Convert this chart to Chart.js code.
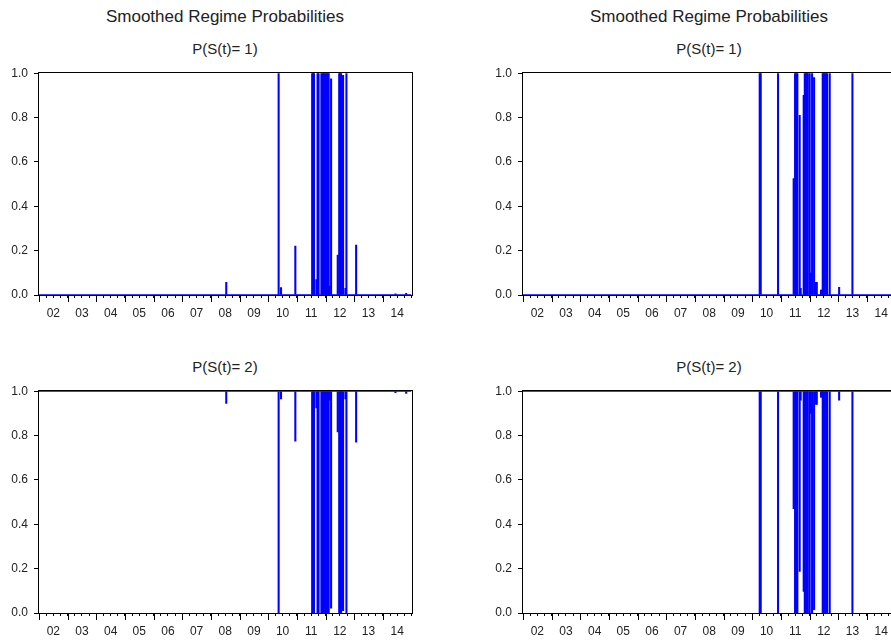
<!DOCTYPE html>
<html>
<head>
<meta charset="utf-8">
<script src="https://cdn.jsdelivr.net/npm/chart.js@4.4.1/dist/chart.umd.min.js"></script>
<style>
html,body{margin:0;padding:0;background:#fff;overflow:hidden;width:891px;height:641px;position:relative;}
.t{position:absolute;font-family:"Liberation Sans",Arial,Helvetica,sans-serif;color:#222;white-space:nowrap;transform:translate(-50%,-50%);line-height:1;}
.title{font-size:17px;}
.sub{font-size:15px;}
canvas{position:absolute;}
</style>
</head>
<body>
<div class="t title" style="left:225px;top:16px">Smoothed Regime Probabilities</div>
<div class="t sub" style="left:225px;top:48px">P(S(t)= 1)</div>
<div class="t sub" style="left:225px;top:366px">P(S(t)= 2)</div>
<div class="t title" style="left:709px;top:16px">Smoothed Regime Probabilities</div>
<div class="t sub" style="left:709px;top:48px">P(S(t)= 1)</div>
<div class="t sub" style="left:709px;top:366px">P(S(t)= 2)</div>

<canvas id="c1" width="430" height="265" style="left:0px;top:60px"></canvas>
<canvas id="c2" width="430" height="265" style="left:484px;top:60px"></canvas>
<canvas id="c3" width="430" height="265" style="left:0px;top:378px"></canvas>
<canvas id="c4" width="430" height="265" style="left:484px;top:378px"></canvas>

<script>
// ---------- axis data ----------
const tickYears  = [2002,2003,2004,2005,2006,2007,2008,2009,2010,2011,2012,2013,2014];
const tickLabels = ['02','03','04','05','06','07','08','09','10','11','12','13','14'];
const xRange = [2002.0, 2015.0];
const baselineSpan = [2002.0, 2015.0];
const yTickValues = [0, 0.2, 0.4, 0.6, 0.8, 1.0];
const yTickLabels = ['0.0','0.2','0.4','0.6','0.8','1.0'];

// ---------- left model ----------
const leftDates = [2008.535, 2010.363, 2010.447, 2010.946,
  2011.533, 2011.568, 2011.597, 2011.680, 2011.722, 2011.757,
  2011.855, 2011.890, 2011.925, 2011.960, 2011.995,
  2012.040, 2012.075, 2012.110, 2012.145, 2012.194,
  2012.425, 2012.477, 2012.512, 2012.540, 2012.578, 2012.613, 2012.694, 2012.729,
  2013.068, 2014.441, 2014.815];
const leftP1Values = [0.057, 1.0, 0.034, 0.22,
  1, 1, 1, 0.07, 1, 1,
  1, 1, 1, 1, 1,
  1, 1, 1, 0.04, 0.975,
  0.18, 1, 1, 1, 0.985, 0.99, 0.03, 1,
  0.225, 0.005, 0.008];
const leftP2Values = [0.945, 0.0, 0.965, 0.775,
  0, 0, 0, 0.925, 0, 0,
  0, 0, 0, 0, 0,
  0, 0, 0, 0.96, 0.022,
  0.816, 0, 0, 0, 0.013, 0.01, 0.965, 0,
  0.77, 0.993, 0.99];

// ---------- right model ----------
const rightDates = [2010.261, 2010.296, 2010.901,
  2011.446, 2011.495, 2011.540, 2011.575, 2011.656, 2011.691, 2011.796,
  2011.834, 2011.869, 2011.904, 2011.939,
  2012.005, 2012.040, 2012.089, 2012.159, 2012.211, 2012.253,
  2012.400, 2012.428, 2012.460, 2012.495, 2012.530, 2012.578, 2012.613, 2012.704,
  2013.033, 2013.497];
const rightP1Values = [1, 1, 1,
  0.525, 1, 1, 1, 0.81, 0.03, 0.90,
  1, 1, 1, 1,
  1, 0.1, 1, 0.98, 0.057, 0.057,
  0.022, 0.022, 1, 1, 1, 1, 1, 1,
  0.035, 1];
const rightP2Values = [0, 0, 0,
  0.47, 0, 0, 0, 0.187, 0.96, 0.097,
  0, 0, 0, 0,
  0, 0.9, 0, 0.015, 0.94, 0.94,
  0.973, 0.973, 0, 0, 0, 0, 0, 0,
  0.96, 0];

const FONT = '"Liberation Sans", Arial, Helvetica, sans-serif';
const BLUE = '#0000ff';

const quarterTicks = [];
tickYears.forEach(y => { [0, 0.25, 0.5, 0.75].forEach(q => quarterTicks.push(y + q)); });
quarterTicks.push(xRange[1]);

function xLabel(v) {
  const yr = Math.floor(v + 1e-6);
  if (Math.abs(v - yr - 0.5) < 1e-6) {
    const i = tickYears.indexOf(yr);
    return i >= 0 ? tickLabels[i] : '';
  }
  return '';
}

const framePlugin = {
  id: 'frame',
  beforeDatasetsDraw(chart) {
    const {ctx, chartArea: a} = chart;
    const l = Math.round(a.left), t = Math.round(a.top), r = Math.round(a.right), b = Math.round(a.bottom);
    ctx.save();
    ctx.strokeStyle = '#000';
    ctx.lineWidth = 1;
    ctx.strokeRect(l - 0.5, t - 0.5, r - l + 1, b - t + 1);
    ctx.restore();
  },
  afterDraw(chart) {
    const {ctx, chartArea: a, scales: {x}} = chart;
    const b = Math.round(a.bottom);
    ctx.save();
    ctx.strokeStyle = '#000';
    ctx.lineWidth = 1;
    ctx.beginPath();
    tickYears.forEach(yv => {
      const px = Math.round(x.getPixelForValue(yv)) + 0.5;
      ctx.moveTo(px, b);
      ctx.lineTo(px, b + 7);
    });
    ctx.stroke();
    ctx.restore();
  }
};

function makeChart(id, dates, values, baseValue) {
  const bars = dates.map((d, i) => ({x: d, y: values[i]}));
  const baseLine = baselineSpan.map(v => ({x: v, y: baseValue}));
  new Chart(document.getElementById(id), {
    type: 'bar',
    data: {
      datasets: [
        {type: 'bar', data: bars, base: baseValue, backgroundColor: BLUE, borderWidth: 0,
         barThickness: 1.4, order: 1},
        {type: 'line', data: baseLine, borderColor: BLUE, borderWidth: 1.6, pointRadius: 0,
         fill: false, tension: 0, order: 2}
      ]
    },
    options: {
      responsive: false,
      animation: false,
      events: [],
      layout: {padding: {top: 13, right: 18.5, left: 0, bottom: 0}},
      plugins: {legend: {display: false}, tooltip: {enabled: false}, title: {display: false}},
      scales: {
        x: {
          type: 'linear', min: xRange[0], max: xRange[1], offset: false,
          afterBuildTicks: s => { s.ticks = quarterTicks.map(v => ({value: v})); },
          afterFit: s => { s.height = 30; },
          grid: {display: true, drawOnChartArea: false, drawTicks: true, tickLength: 3,
                 color: '#000', lineWidth: 1, offset: false},
          border: {display: false},
          ticks: {autoSkip: false, maxRotation: 0, minRotation: 0, padding: 8, color: '#222',
                  font: {family: FONT, size: 12}, callback: v => xLabel(v)}
        },
        y: {
          type: 'linear', min: 0, max: 1, stacked: false,
          afterBuildTicks: s => { s.ticks = yTickValues.map(v => ({value: v})); },
          afterFit: s => { s.width = 39; },
          grid: {display: true, drawOnChartArea: false, drawTicks: true, tickLength: 5,
                 color: '#000', lineWidth: 1},
          border: {display: false},
          ticks: {padding: 6, color: '#222', font: {family: FONT, size: 12},
                  callback: (v, i) => yTickLabels[i]}
        }
      }
    },
    plugins: [framePlugin]
  });
}

makeChart('c1', leftDates, leftP1Values, 0);
makeChart('c2', rightDates, rightP1Values, 0);
makeChart('c3', leftDates, leftP2Values, 1);
makeChart('c4', rightDates, rightP2Values, 1);
</script>
</body>
</html>
